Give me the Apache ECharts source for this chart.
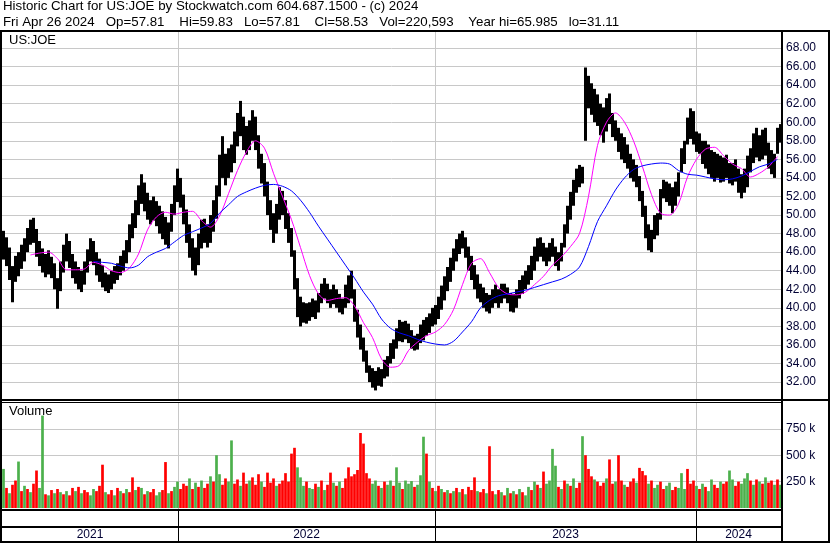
<!DOCTYPE html>
<html><head><meta charset="utf-8">
<script src="https://cdn.jsdelivr.net/npm/echarts@6/dist/echarts.min.js"></script>
<style>html,body{margin:0;padding:0;background:#fff}#c{width:830px;height:543px}</style>
</head><body><div id="c"></div>
<script>
// ---------- data ----------
const titleLine1 = "Historic Chart for US:JOE by Stockwatch.com 604.687.1500 - (c) 2024";
const titleLine2 = "Fri Apr 26 2024   Op=57.81    Hi=59.83   Lo=57.81    Cl=58.53   Vol=220,593    Year hi=65.985   lo=31.11";
const symbolLabel = "US:JOE";
const volumeLabel = "Volume";
const years = ["2021", "2022", "2023", "2024"];
// period index (each period = 3 sessions) at which each new year begins
const yearStarts = [58.17, 143.83, 230.83];
const periodRange = [-0.5, 259.17];
const volumeTicks = [250000, 500000, 750000];

const lows = [
45.2,44.5,43.0,40.6,42.8,43.4,44.2,45.0,46.0,46.8,
47.0,45.5,44.5,43.8,43.3,43.6,43.2,42.0,39.9,41.8,
43.8,45.0,44.3,43.2,42.6,42.0,41.7,42.5,43.8,45.0,
44.6,43.5,42.8,42.2,41.8,41.6,42.0,42.6,43.0,43.5,
44.0,44.8,46.0,47.5,48.6,50.0,51.2,50.4,49.5,49.0,
49.4,48.8,48.0,47.4,46.8,46.4,48.2,50.0,51.4,50.8,
49.0,47.0,45.4,44.0,43.5,44.6,46.4,47.0,46.5,47.0,
48.2,49.6,52.0,54.0,53.2,54.0,54.6,55.6,57.4,58.5,
57.0,56.5,57.0,58.0,57.0,55.0,53.4,52.0,50.0,48.4,
47.0,48.0,49.5,50.0,48.5,47.0,45.5,42.0,39.0,38.0,
38.4,38.3,38.6,39.0,38.8,39.5,40.5,41.0,40.5,40.0,
40.4,40.0,39.5,39.3,40.0,40.5,41.0,38.5,36.8,35.5,
34.2,33.0,32.0,31.4,31.1,31.6,31.5,32.4,32.6,34.0,
34.5,35.6,36.4,36.3,36.6,36.2,35.6,35.4,35.5,36.2,
36.5,37.0,37.3,38.0,38.2,38.8,39.8,40.8,41.8,42.8,
44.0,45.0,45.8,46.4,45.4,44.0,43.0,42.0,41.0,40.6,
40.0,39.6,39.4,40.0,40.5,40.0,40.5,41.0,40.5,39.6,
39.5,40.0,41.0,41.5,42.0,42.5,43.0,44.0,45.0,45.5,
45.0,44.5,45.0,45.5,44.5,44.0,45.0,46.5,48.0,49.5,
51.0,52.4,53.0,53.4,58.0,61.5,60.8,60.0,59.6,58.6,
57.8,59.0,59.8,58.4,58.0,56.8,56.0,55.6,55.0,54.0,
53.6,53.0,51.5,49.8,47.5,46.2,46.0,47.4,47.8,49.5,
51.8,51.4,51.0,50.2,51.0,52.0,54.6,55.5,57.6,58.2,
57.6,56.8,56.6,55.5,55.0,54.4,54.0,53.6,54.0,53.5,
53.6,54.0,53.4,53.2,53.6,52.4,51.8,52.4,53.0,54.6,
55.6,56.2,55.8,56.0,56.4,55.0,54.4,54.0,56.6,57.8
];
const highs = [
48.3,47.6,46.5,44.5,45.6,46.0,46.8,47.5,48.6,49.5,
49.7,48.5,47.2,46.4,45.8,46.2,45.5,44.8,43.2,45.0,
46.8,48.0,47.2,45.8,45.0,44.4,44.0,45.0,46.3,47.5,
47.2,46.0,45.3,44.6,43.8,43.6,44.0,44.5,44.8,45.6,
46.2,47.3,49.0,50.2,51.6,53.2,54.4,53.5,52.4,51.6,
52.0,51.5,51.0,50.4,49.8,49.2,51.2,53.2,55.0,54.0,
52.2,50.6,49.0,47.5,46.5,48.0,49.5,49.6,49.0,50.0,
51.6,53.2,56.5,58.5,56.6,57.2,57.6,59.0,61.0,62.3,
60.6,59.6,60.2,61.3,60.6,58.6,56.6,55.6,53.6,51.6,
50.2,51.2,53.0,52.6,51.6,50.2,48.6,46.2,43.2,41.2,
40.6,40.5,40.6,41.0,40.8,41.6,42.6,43.2,42.6,42.0,
42.5,42.0,41.5,41.0,42.5,43.5,44.0,42.0,39.8,38.2,
36.8,35.4,33.8,33.5,33.2,33.6,33.4,34.4,34.8,36.2,
36.6,37.8,38.7,38.5,38.6,38.3,37.6,37.0,37.2,38.2,
38.7,39.0,39.4,40.0,40.3,41.2,42.4,43.4,44.4,45.4,
46.4,47.4,48.0,48.3,47.6,46.6,45.6,44.6,43.6,42.6,
42.2,41.6,41.4,42.0,42.5,42.0,42.6,42.6,42.2,41.6,
41.5,42.0,43.0,43.5,44.0,44.6,45.6,46.6,47.5,47.6,
47.0,46.5,47.0,47.5,46.6,46.0,47.0,49.0,51.0,52.5,
53.8,55.0,55.4,55.2,65.9,65.0,64.2,63.6,63.0,62.0,
61.6,62.6,63.1,61.0,60.2,59.4,58.8,58.4,57.6,56.6,
56.0,55.4,54.2,52.6,51.0,49.0,48.4,50.0,50.2,52.8,
53.8,53.6,53.4,53.0,53.6,54.6,57.2,58.0,60.5,61.5,
61.2,59.0,58.8,58.0,58.0,57.6,57.0,56.8,56.6,56.4,
56.2,56.5,55.6,55.6,56.0,55.0,54.4,55.0,56.4,57.2,
58.8,59.4,58.6,59.2,59.4,57.8,57.0,56.6,59.4,59.8
];
// moving averages, one value every maStep periods
const maStep = 3;
const maFastStart = 9;
const maFast = [
45.7,45.9,46.0,45.3,44.1,44.1,44.2,44.9,44.6,44.0,
43.8,44.3,45.8,48.4,49.8,50.3,50.1,50.3,50.4,49.4,
48.7,49.9,52.3,54.8,56.8,58.0,57.2,54.5,52.0,49.5,
46.5,43.5,41.5,40.8,41.0,41.1,40.2,38.4,36.8,34.5,
33.6,33.8,35.4,36.3,37.0,37.4,38.2,39.8,42.5,44.8,
45.3,43.8,42.2,41.5,41.4,41.7,42.5,43.4,44.6,45.5,
46.6,48.0,52.0,57.5,60.0,61.0,60.0,58.0,55.2,52.2,
50.2,50.0,51.2,54.1,56.0,57.1,57.3,56.4,55.5,55.0,
54.1,54.5,55.2,56.3
];
const maSlowStart = 30;
const maSlow = [
45.0,44.9,44.8,44.5,44.3,44.6,45.5,46.0,46.4,47.1,
47.8,48.2,48.6,49.1,50.2,51.1,52.0,52.5,52.9,53.2,
53.3,53.1,52.6,51.6,50.3,48.8,47.4,46.0,44.6,43.2,
41.7,40.4,38.8,37.8,37.3,37.0,36.6,36.3,36.1,36.0,
36.4,37.4,38.5,40.0,40.8,41.3,41.5,41.7,41.9,42.2,
42.5,42.8,43.1,43.6,44.4,46.6,49.3,51.0,52.7,54.0,
54.9,55.3,55.5,55.6,55.5,54.8,54.4,54.3,54.1,53.9,
53.8,53.9,54.2,54.7,55.2,55.5,56.0
];
// volume in thousands of shares per period, and up (g) / down (r) flag
const volumes = [
370,190,140,220,260,440,160,210,180,150,
230,355,190,875,130,120,170,140,180,150,
130,160,120,190,160,200,140,170,150,120,
180,160,210,410,150,130,170,120,190,160,
140,180,150,290,170,200,190,130,160,150,
180,120,150,170,435,140,160,200,250,180,
230,210,280,180,240,200,260,190,230,300,
250,500,320,220,280,250,640,230,270,210,
335,230,260,290,220,320,250,200,335,240,
280,210,230,260,330,250,515,570,385,290,
210,250,190,180,230,200,260,170,220,335,
240,210,250,190,280,385,300,320,360,710,
610,330,280,230,260,210,190,250,220,260,
210,385,240,180,260,230,255,200,220,310,
675,515,250,190,160,210,180,150,170,140,
160,190,150,180,130,200,170,290,160,150,
180,140,585,160,130,170,150,120,190,140,
160,130,180,150,120,200,170,250,220,190,
345,230,260,560,400,200,180,260,230,210,
280,190,240,680,500,370,300,270,250,210,
240,280,460,230,250,500,260,220,200,250,
280,240,380,350,310,230,260,190,220,250,
180,210,240,170,200,190,330,180,370,230,
260,210,180,230,200,160,270,220,190,250,
230,250,355,270,210,250,230,280,330,260,
220,270,250,230,290,240,260,220,270,220
];
const volumeDir =
"grgrrgrgrg"+"rrggrgrgrg"+"rgrrgrgrrg"+"grrrgrrgrg"+"rgrrgrgrgr"+
"rggrrgrggr"+"rrgrgrgrrg"+"rggrrggrrg"+"rrgrrrgrrr"+"rgrrrrrrgg"+
"grggrgrgrr"+"grgrrrrrrr"+"rrrggrgrgg"+"rggrgggrgg"+"grgrgrgrgr"+
"grgrgrrrgr"+"rgrrgrgrgr"+"grgrggrgrg"+"rggggrgrgr"+"grrgrrrgrr"+
"rgrrgrrgrr"+"rgrrrgrggr"+"rggrrgggrr"+"rgrgrggrrg"+"rrggrrgggr"+
"grgrgrrgrg";

// ---------- chart ----------
const FONT = '"Liberation Sans", Arial, sans-serif';
const GRID = '#c8c8c8';
const LABEL = '#000033';
const UP = '#4cb04c', DOWN = '#ff0000';

const chart = echarts.init(document.getElementById('c'), null, {renderer: 'canvas'});

const option = {
  animation: false,
  backgroundColor: '#ffffff',
  grid: [
    {left: 2, top: 29.44, width: 779, height: 371.2},
    {left: 2, top: 402, width: 779, height: 106}
  ],
  xAxis: [
    {gridIndex: 0, type: 'value', min: periodRange[0], max: periodRange[1], show: false},
    {gridIndex: 1, type: 'value', min: periodRange[0], max: periodRange[1], show: false}
  ],
  yAxis: [
    {gridIndex: 0, type: 'value', position: 'right', min: 30, max: 70, interval: 2,
     axisLine: {show: false}, axisTick: {show: false},
     axisLabel: {margin: 5, color: LABEL, fontFamily: FONT, fontSize: 12,
       formatter: v => (v > 30 && v < 70) ? v.toFixed(2) : ''},
     splitLine: {show: true, showMinLine: false, showMaxLine: false, lineStyle: {color: GRID, width: 1}}},
    {gridIndex: 1, type: 'value', position: 'right', min: 0, max: 1003800, interval: 250000,
     axisLine: {show: false}, axisTick: {show: false},
     axisLabel: {margin: 5, color: LABEL, fontFamily: FONT, fontSize: 12,
       formatter: v => volumeTicks.includes(v) ? (v / 1000) + ' k' : ''},
     splitLine: {show: true, showMinLine: false, showMaxLine: false, lineStyle: {color: GRID, width: 1}}}
  ],
  series: [
    {
      type: 'custom', xAxisIndex: 0, yAxisIndex: 0, z: 2,
      data: lows.map((l, i) => [i, l, highs[i]]),
      encode: {x: 0, y: [1, 2]},
      renderItem: function (params, api) {
        const x = api.value(0);
        const top = api.coord([x, api.value(2)]);
        const bot = api.coord([x, api.value(1)]);
        const w = api.size([1, 0])[0];
        return {type: 'rect',
          shape: {x: top[0] - w / 2, y: top[1], width: w, height: Math.max(1, bot[1] - top[1])},
          style: {fill: '#000000'}};
      }
    },
    {
      type: 'line', xAxisIndex: 0, yAxisIndex: 0, z: 3, showSymbol: false, smooth: 0.3,
      data: maFast.map((v, j) => [maFastStart + j * maStep, v]),
      lineStyle: {color: '#ff00ff', width: 1}
    },
    {
      type: 'line', xAxisIndex: 0, yAxisIndex: 0, z: 3, showSymbol: false, smooth: 0.3,
      data: maSlow.map((v, j) => [maSlowStart + j * maStep, v]),
      lineStyle: {color: '#0000ff', width: 1}
    },
    {
      type: 'bar', xAxisIndex: 1, yAxisIndex: 1, barWidth: 2.7,
      data: volumes.map((v, i) => ({value: [i, v * 1000],
        itemStyle: {color: volumeDir[i] === 'g' ? UP : DOWN}}))
    }
  ]
};
chart.setOption(option);

// ---------- frame, labels ----------
const px = v => chart.convertToPixel({xAxisIndex: 0}, v);
const txt = (t, x, y, size, extra) => Object.assign({type: 'text', x: x, y: y, z: 120,
  style: Object.assign({text: t, fill: '#000', font: size + 'px ' + FONT, textVerticalAlign: 'top'}, extra || {})});
const box = (x, y, w, h, color, z) => ({type: 'rect', z: z, shape: {x: x, y: y, width: w, height: h},
  style: {fill: color}});

const g = [];
g.push(txt(titleLine1, 3, 0, 13.3));
g.push(txt(titleLine2, 3, 16, 13.3));
g.push(txt(symbolLabel, 9, 34, 13));
g.push(txt(volumeLabel, 9, 405, 13));
// borders
g.push(box(0, 30, 830, 2, '#000', 110));
g.push(box(0, 399, 830, 2, '#000', 110));
g.push(box(0, 402, 782, 1, '#000', 110));
g.push(box(0, 509, 782, 2, '#000', 110));
g.push(box(0, 526, 782, 2, '#000', 110));
g.push(box(0, 541, 830, 2, '#000', 110));
g.push(box(0, 30, 2, 513, '#000', 110));
g.push(box(781, 30, 2, 513, '#000', 110));
g.push(box(828, 30, 2, 513, '#000', 110));
// year boundaries
yearStarts.forEach(v => {
  const x = Math.round(px(v));
  g.push(box(x, 32, 1, 367, GRID, 1));
  g.push(box(x, 403, 1, 106, GRID, 1));
  g.push(box(x, 511, 1, 30, '#000', 110));
});
const bounds = [periodRange[0]].concat(yearStarts, [periodRange[1]]);
years.forEach((t, i) => {
  const cx = (px(bounds[i]) + px(bounds[i + 1])) / 2;
  g.push(txt(t, cx, 535, 12, {textAlign: 'center', textVerticalAlign: 'middle', fill: LABEL}));
});
chart.setOption({graphic: {elements: g}});
</script>
</body></html>
